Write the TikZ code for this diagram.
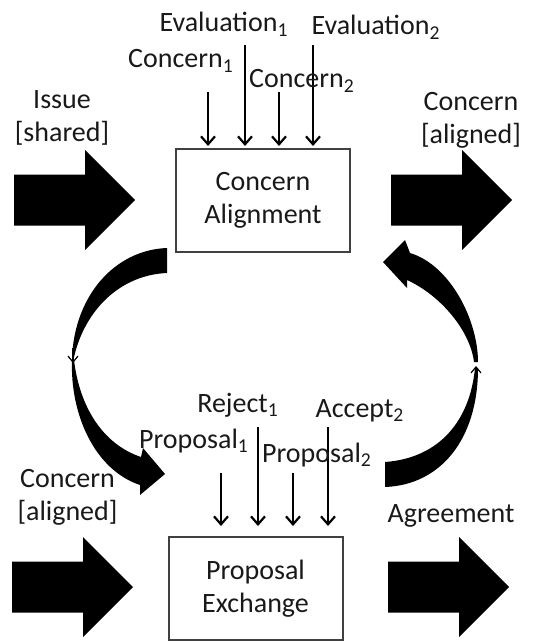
\documentclass[tikz,border=0pt]{standalone}
\usepackage{fontspec}
\setmainfont{Carlito}
\usetikzlibrary{arrows.meta,positioning}

\begin{document}
\begin{tikzpicture}[
    x=0.5pt, y=-0.5pt,
    every node/.style={font=\fontsize{14}{16.5}\selectfont, text=black!90, inner sep=0pt},
    stage/.style={draw=black!75, line width=1pt, minimum width=87pt, minimum height=51.5pt, align=center},
    tag/.style={align=center},
    feed/.style={-{Straight Barb[length=4pt,width=7pt]}, line width=1.1pt},
    tick/.style={-{Straight Barb[length=3pt,width=5pt]}, line width=0.6pt}
]
\useasboundingbox (0,0) rectangle (532,642);

% the two stages
\node[stage] (alignment) at (263,200.5) {Concern\\Alignment};
\node[stage] (exchange) at (255.5,588.5) {Proposal\\Exchange};

% block arrows in and out
\foreach \x/\y in {14/200, 391/200, 12/587, 388/587}
  \fill (\x,\y-25.5) -- ++(71,0) -- ++(0,-24.5) -- ++(50,50) -- ++(-50,50)
        -- ++(0,-24.5) -- ++(-71,0) -- cycle;

\node[tag] (issue) at (62,118) {Issue\\{[shared]}};
\node[tag] (shared) at (471,120) {Concern\\{[aligned]}};
\node[tag] (aligned) at (67.5,497) {Concern\\{[aligned]}};
\node[anchor=base] (agree) at (451,522) {Agreement};

% inputs to concern alignment
\foreach \n/\x/\y in {con1/208/92, eva1/245/45, con2/279/92, eva2/313/45} {
  \coordinate (\n) at (\x,\y);
  \draw[feed, shorten >=1pt] (\n) -- (\n |- alignment.north);
}
\node[anchor=base] (tcon1) at (181,68) {Concern\textsubscript{1}};
\node[anchor=base] (teva1) at (224,32) {Evaluation\textsubscript{1}};
\node[anchor=base] (tcon2) at (302,88) {Concern\textsubscript{2}};
\node[anchor=base] (teva2) at (376,35) {Evaluation\textsubscript{2}};

% inputs to proposal exchange
\foreach \n/\x/\y in {pro1/221/473, rej1/258/427, pro2/293/473, acc2/328/427} {
  \coordinate (\n) at (\x,\y);
  \draw[feed, shorten >=5pt] (\n) -- (\n |- exchange.north);
}
\node[anchor=base] (tpro1) at (194,448) {Proposal\textsubscript{1}};
\node[anchor=base] (trej1) at (238,412) {Reject\textsubscript{1}};
\node[anchor=base] (tpro2) at (317,462) {Proposal\textsubscript{2}};
\node[anchor=base] (tacc2) at (360,417) {Accept\textsubscript{2}};

% loop down the left side
\fill (167,248) .. controls (115,250) and (75,295) .. (72,357)
  -- (74,357) .. controls (85,310) and (120,275) .. (167,273) -- cycle;
\draw[tick] (73,348) -- (73,363);
\fill (72,360) .. controls (70,415) and (95,470) .. (140,485)
  -- (140,495) -- (165,474) -- (143,448) -- (141,457)
  .. controls (105,445) and (80,410) .. (74,360) -- cycle;

% loop back up the right side
\fill (385,487) .. controls (440,485) and (478,440) .. (478,368)
  -- (475,368) .. controls (470,420) and (440,458) .. (385,462) -- cycle;
\draw[tick] (476,381) -- (476,366);
\fill (478,362) .. controls (478,320) and (450,265) .. (410,253)
  -- (405,240) -- (383,262) -- (407,288) -- (407,280)
  .. controls (440,295) and (470,330) .. (474,362) -- cycle;
\end{tikzpicture}
\end{document}
